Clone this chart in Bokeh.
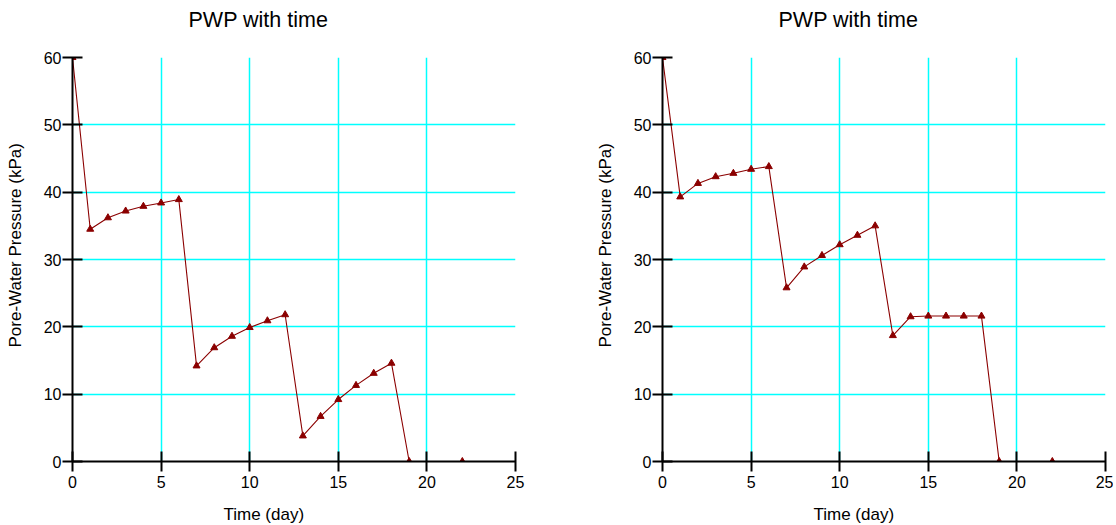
from bokeh.plotting import figure
from bokeh.layouts import row
from bokeh.models import Range1d, SingleIntervalTicker, Title
from bokeh.embed import file_html
from bokeh.resources import INLINE

time_days = [0, 1, 2, 3, 4, 5, 6, 7, 8, 9, 10, 11, 12, 13, 14, 15, 16, 17, 18, 19, 22]
pwp_left = [60.0, 34.5, 36.2, 37.2, 37.9, 38.4, 38.9, 14.2, 16.9, 18.6, 19.9, 20.9, 21.8,
            3.8, 6.7, 9.2, 11.3, 13.1, 14.6, 0.0, 0.0]
pwp_right = [60.0, 39.3, 41.3, 42.3, 42.8, 43.4, 43.8, 25.8, 28.9, 30.6, 32.2, 33.6, 35.0,
             18.7, 21.5, 21.6, 21.6, 21.6, 21.6, 0.0, 0.0]

title_text = "PWP with time"
x_label = "Time (day)"
y_label = "Pore-Water Pressure (kPa)"

FONT = "Liberation Sans"
RED = "#8B0000"


def make_plot(values, width, left, right):
    p = figure(width=width, height=525, output_backend="svg", toolbar_location=None,
               x_range=Range1d(0, 25), y_range=Range1d(0, 60),
               min_border_left=left, min_border_right=right,
               min_border_top=57, min_border_bottom=64)
    p.outline_line_color = None
    p.background_fill_color = "white"
    p.border_fill_color = "white"

    # spacer next to the frame, then the real title further out
    p.add_layout(Title(text=" ", text_font=FONT, text_font_size="10px", standoff=8),
                 "above")
    p.add_layout(Title(text=title_text, align="left", offset=116, standoff=10,
                       text_font=FONT, text_font_size="21.5px",
                       text_font_style="normal", text_color="black"), "above")

    p.xaxis.ticker = SingleIntervalTicker(interval=5, num_minor_ticks=0)
    p.yaxis.ticker = SingleIntervalTicker(interval=10, num_minor_ticks=0)
    for ax in (p.xaxis, p.yaxis):
        ax.axis_line_color = "black"
        ax.axis_line_width = 2
        ax.major_tick_line_color = "black"
        ax.major_tick_line_width = 2
        ax.major_tick_in = 10
        ax.major_tick_out = 10
        ax.minor_tick_line_color = None
        ax.major_label_text_font = FONT
        ax.major_label_text_font_size = "16px"
        ax.major_label_text_color = "black"
    p.xaxis.major_label_standoff = 4
    p.yaxis.major_label_standoff = 1

    # x-axis title (spacer, then text), offset like the original
    p.add_layout(Title(text=" ", text_font=FONT, text_font_size="9px", standoff=0),
                 "below")
    p.add_layout(Title(text=x_label, align="left", offset=151, standoff=0,
                       vertical_align="bottom",
                       text_font=FONT, text_font_size="17px",
                       text_font_style="normal", text_color="black"), "below")

    # y-axis title (spacer, then text), placed like the original
    p.add_layout(Title(text=" ", text_font=FONT, text_font_size="9px", standoff=4),
                 "left")
    p.add_layout(Title(text=y_label, align="left", offset=114, standoff=0,
                       vertical_align="bottom",
                       text_font=FONT, text_font_size="17px",
                       text_font_style="normal", text_color="black"), "left")

    p.xgrid.grid_line_color = "#00FFFF"
    p.ygrid.grid_line_color = "#00FFFF"
    p.xgrid.grid_line_width = 1.5
    p.ygrid.grid_line_width = 1.5

    p.line(time_days, values, line_color=RED, line_width=1.1)
    p.scatter(time_days, values, marker="triangle", size=7,
              fill_color=RED, line_color=RED)
    return p


p1 = make_plot(pwp_left, 580, 72, 65)
p2 = make_plot(pwp_right, 533, 82, 8)
layout = row(p1, p2)

open("out.html", "w").write(file_html(layout, INLINE))
